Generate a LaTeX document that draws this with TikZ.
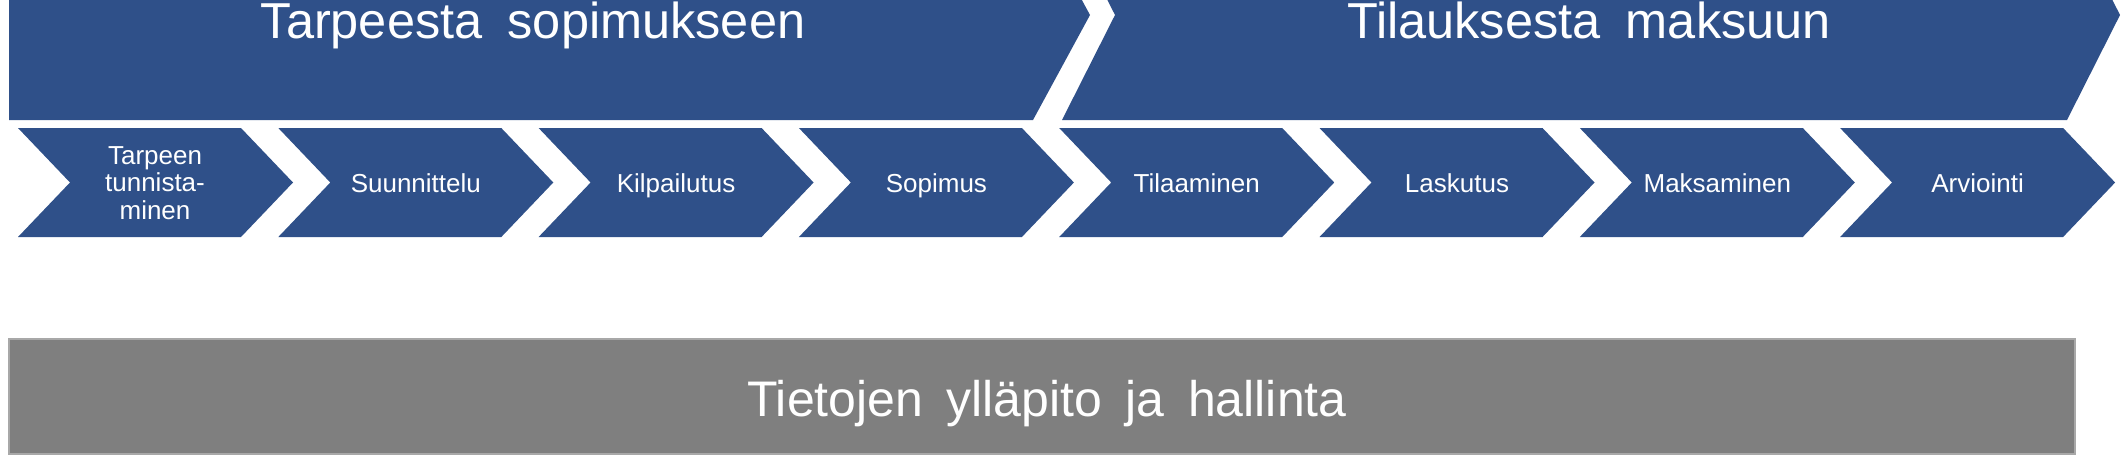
\documentclass[tikz,border=0pt]{standalone}
\usepackage{fontspec}
\setmainfont{Liberation Sans}
\definecolor{procblue}{HTML}{2F5089}
\definecolor{bargray}{HTML}{7F7F7F}
\definecolor{baredge}{HTML}{A8A8A8}
\newcommand\dsp{\hspace{0.5em}}
\newcommand\gsp{\hspace{0.47em}}
\tikzset{
  bigtxt/.style={text=white, inner sep=0pt, anchor=base, font=\fontsize{50.5}{61}\selectfont},
  smalltxt/.style={text=white, inner sep=0pt, align=center, font=\fontsize{26}{27.5}\selectfont},
  graytxt/.style={text=white, inner sep=0pt, anchor=base, font=\fontsize{50}{60}\selectfont},
}
\begin{document}
\begin{tikzpicture}[x=1pt,y=-1pt]
\useasboundingbox (0,0) rectangle (2127,463);
\clip (0,0) rectangle (2127,463);
% big arrows
\fill[procblue] (9,-90) -- (1033,-90) -- (1090,15) -- (1033,120) -- (9,120) -- cycle;
\fill[procblue] (1062,-90) -- (2067,-90) -- (2120,15) -- (2067,120) -- (1062,120) -- (1115,15) -- cycle;
\node[bigtxt] (phase1) at (533,38.5) {Tarpeesta\dsp sopimukseen};
\node[bigtxt] (phase2) at (1589,38.5) {Tilauksesta\dsp maksuun};
% small chevrons
\foreach \i in {0,...,7}{
  \pgfmathsetmacro{\xo}{18+260.3*\i}
  \fill[procblue] (\xo,128) -- ({\xo+223},128) -- ({\xo+275},182.5) -- ({\xo+223},237) -- (\xo,237) -- ({\xo+52},182.5) -- cycle;
}
\node[smalltxt] (s1) at (155,183) {Tarpeen\\tunnista-\\minen};
\node[smalltxt, anchor=base] (s2) at ({18+260.3*1+137.5},192) {Suunnittelu};
\node[smalltxt, anchor=base] (s3) at ({18+260.3*2+137.5},192) {Kilpailutus};
\node[smalltxt, anchor=base] (s4) at ({18+260.3*3+137.5},192) {Sopimus};
\node[smalltxt, anchor=base] (s5) at ({18+260.3*4+137.5},192) {Tilaaminen};
\node[smalltxt, anchor=base] (s6) at ({18+260.3*5+137.5},192) {Laskutus};
\node[smalltxt, anchor=base] (s7) at ({18+260.3*6+137.5},192) {Maksaminen};
\node[smalltxt, anchor=base] (s8) at ({18+260.3*7+137.5},192) {Arviointi};
% gray bar
\fill[bargray, draw=baredge, line width=1.2pt] (9,339) rectangle (2075,454);
\node[graytxt] (bar) at (1047,416) {Tietojen\gsp ylläpito\gsp ja\gsp hallinta};
\end{tikzpicture}
\end{document}
